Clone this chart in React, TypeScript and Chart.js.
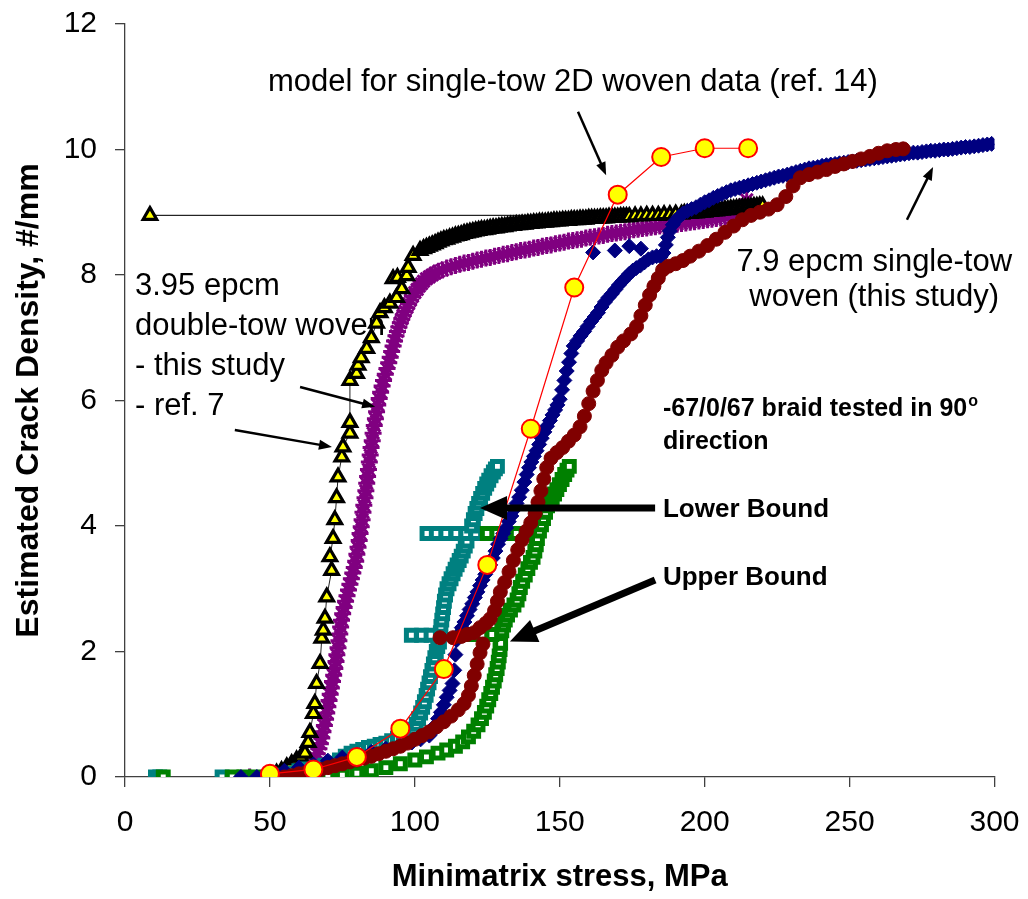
import React, { useEffect, useRef } from 'react';
import { Chart, registerables } from 'chart.js';

Chart.register(...registerables);

const FONT = "'Liberation Sans', Arial, sans-serif";

const xTickValues = [0, 50, 100, 150, 200, 250, 300];
const yTickValues = [0, 2, 4, 6, 8, 10, 12];

// model for single-tow 2D woven data (ref. 14)
const modelX = [50, 65, 80, 95, 110, 125, 140, 155, 170, 185, 200, 215];
const modelY = [0.05, 0.12, 0.32, 0.77, 1.72, 3.38, 5.55, 7.8, 9.28, 9.88, 10.02, 10.02];

// 3.95 epcm double-tow woven - ref. 7 (triangles, thin line), ordered by crack density
const refSevenRiseX = [48, 50, 52.3, 54, 55.8, 57.5, 59.2, 60.7, 62.1, 63.2, 63.8, 65, 65.5, 66.1, 67.3, 67.9, 68.4, 69, 69.6, 71.3, 70.7, 71.8, 72.4, 73, 73.5, 74.8, 75.2, 77.6, 77.6, 77.6, 79.9, 80.4, 81.5, 83.4, 85, 86.8, 88, 89.5, 91.4, 93.7, 95.5, 92.5, 94, 97.2, 97.7, 99.4, 101.8];
const refSevenRiseY = [0, 0.02, 0.06, 0.1, 0.16, 0.21, 0.27, 0.32, 0.38, 0.55, 0.71, 1.01, 1.17, 1.49, 1.81, 2.21, 2.34, 2.53, 2.87, 3.29, 3.51, 3.8, 4.1, 4.45, 4.78, 5.1, 5.26, 5.48, 5.65, 6.32, 6.43, 6.56, 6.68, 6.83, 7.0, 7.23, 7.4, 7.48, 7.55, 7.64, 7.78, 7.94, 7.96, 7.99, 8.12, 8.31, 8.39];
// ref. 7: dense plateau band (the lone early point at 8.6 MPa sits in its crack-density order)
const refSevenBandX = [103, 104, 105, 106, 107, 108, 109, 110, 111, 112, 113, 114, 115, 116, 117, 118, 119, 120, 121, 122, 123, 124, 125, 126, 127, 128, 129, 130, 131, 132, 133, 134, 135, 136, 137, 138, 139, 140, 141, 142, 143, 144, 145, 146, 147, 148, 149, 150, 151, 152, 153, 154, 155, 156, 157, 158, 159, 160, 161, 162, 163, 164, 165, 166, 167, 168, 169, 170, 171, 172, 173, 174, 176, 178, 180, 8.6, 182, 184, 186, 188, 190, 192, 193, 194, 195, 196, 197, 198, 199, 200, 201, 202, 203, 204, 205, 206, 207, 208, 209, 210, 211, 212, 213, 214, 215, 216, 217, 218, 219, 220];
const refSevenBandY = [8.42, 8.44, 8.46, 8.48, 8.5, 8.52, 8.54, 8.56, 8.57, 8.59, 8.6, 8.62, 8.63, 8.64, 8.66, 8.67, 8.68, 8.69, 8.7, 8.71, 8.72, 8.72, 8.73, 8.74, 8.75, 8.75, 8.76, 8.77, 8.77, 8.78, 8.79, 8.79, 8.8, 8.8, 8.81, 8.81, 8.82, 8.82, 8.83, 8.83, 8.84, 8.84, 8.84, 8.85, 8.85, 8.86, 8.86, 8.86, 8.87, 8.87, 8.87, 8.88, 8.88, 8.88, 8.89, 8.89, 8.89, 8.9, 8.9, 8.9, 8.9, 8.91, 8.91, 8.91, 8.92, 8.92, 8.92, 8.92, 8.93, 8.93, 8.93, 8.93, 8.94, 8.94, 8.95, 8.95, 8.95, 8.95, 8.96, 8.96, 8.97, 8.97, 8.98, 8.98, 8.98, 8.99, 8.99, 9.0, 9.0, 9.0, 9.01, 9.01, 9.02, 9.02, 9.03, 9.03, 9.04, 9.04, 9.05, 9.05, 9.06, 9.06, 9.07, 9.07, 9.08, 9.08, 9.09, 9.09, 9.1, 9.1];

// 3.95 epcm double-tow woven - this study (purple)
const thisStudyDoubleX = [43, 58, 60, 61.5, 62.5, 63.5, 64.3, 65, 65.7, 66.3, 66.9, 67.4, 67.9, 68.3, 68.8, 69.2, 69.6, 70, 70.4, 70.8, 71.2, 71.6, 72, 72.4, 72.8, 73.1, 73.5, 73.8, 74.1, 74.4, 74.7, 75.1, 75.6, 76.1, 76.6, 77.1, 77.6, 78.1, 78.6, 79.1, 79.6, 80, 80.4, 80.8, 81.1, 81.5, 81.8, 82.1, 82.4, 82.8, 83.1, 83.4, 83.7, 84, 84.3, 84.6, 84.9, 85.3, 85.6, 86, 86.4, 86.8, 87.2, 87.7, 88.2, 88.7, 89.2, 89.8, 90.4, 91, 91.5, 92, 92.5, 93, 93.5, 94, 94.5, 95, 95.5, 96, 96.6, 97.2, 97.8, 98.5, 99.2, 100, 100.8, 101.5, 102.3, 103, 104, 105, 106, 107, 108.2, 109.5, 111, 112.5, 114, 115.5, 117, 118.5, 120, 121.5, 123, 124.5, 126, 127.5, 129, 130.5, 132, 133.5, 135, 136.5, 138, 139.5, 141, 142.5, 144, 145.5, 147, 148.5, 150, 151.5, 153, 154.5, 156, 157.5, 159, 160.5, 162, 163.5, 165, 166.5, 168, 169.5, 171, 172.5, 174, 175.5, 177, 178.5, 180, 181.5, 183, 184.5, 186, 187.5, 189, 190.5, 192, 193.5, 195, 196.5, 198, 199.5, 201, 202.5, 204, 205.5, 207, 208.5, 210, 211.5, 212.5, 213.5, 214.5];
const thisStudyDoubleY = [0, 0.02, 0.04, 0.06, 0.09, 0.13, 0.17, 0.23, 0.3, 0.37, 0.45, 0.53, 0.62, 0.72, 0.82, 0.92, 1.02, 1.12, 1.22, 1.32, 1.42, 1.52, 1.62, 1.73, 1.84, 1.95, 2.06, 2.17, 2.28, 2.39, 2.5, 2.6, 2.7, 2.8, 2.89, 2.98, 3.07, 3.16, 3.25, 3.34, 3.44, 3.55, 3.66, 3.77, 3.88, 3.99, 4.1, 4.22, 4.33, 4.45, 4.56, 4.68, 4.79, 4.9, 5.02, 5.13, 5.25, 5.36, 5.48, 5.6, 5.71, 5.82, 5.93, 6.03, 6.13, 6.23, 6.32, 6.42, 6.51, 6.6, 6.69, 6.78, 6.87, 6.95, 7.03, 7.1, 7.17, 7.24, 7.3, 7.36, 7.42, 7.48, 7.54, 7.6, 7.66, 7.72, 7.77, 7.82, 7.86, 7.9, 7.94, 7.97, 8.0, 8.03, 8.06, 8.08, 8.11, 8.13, 8.15, 8.17, 8.19, 8.2, 8.22, 8.24, 8.25, 8.27, 8.28, 8.3, 8.31, 8.33, 8.34, 8.36, 8.37, 8.39, 8.4, 8.41, 8.43, 8.44, 8.46, 8.47, 8.48, 8.5, 8.51, 8.52, 8.54, 8.55, 8.56, 8.57, 8.59, 8.6, 8.61, 8.62, 8.63, 8.65, 8.66, 8.67, 8.68, 8.69, 8.71, 8.72, 8.73, 8.74, 8.75, 8.76, 8.77, 8.78, 8.79, 8.8, 8.8, 8.81, 8.82, 8.83, 8.84, 8.85, 8.86, 8.87, 8.88, 8.89, 8.9, 8.91, 8.92, 8.94, 8.96, 8.99, 9.04, 9.1, 9.2];

// 7.9 epcm single-tow woven (this study) - navy diamonds
const singleTowX = [40, 45.5, 50, 55, 60, 65, 70, 75, 80, 85, 90, 95, 99, 102, 105, 106, 107, 108, 109, 110, 111, 112, 113, 113.6, 114, 114.4, 115.3, 116.2, 117.1, 118, 118.9, 119.8, 120.7, 121.6, 122.5, 123.4, 124.3, 125.2, 126, 126.9, 127.8, 128.7, 129.6, 130.5, 131.5, 132.4, 133.3, 134.2, 135.1, 136, 136.9, 137.8, 138.6, 139.4, 140.2, 141.1, 142, 142.9, 143.8, 144.7, 145.6, 146.6, 147.5, 148.4, 149.2, 150, 150.8, 151.6, 152.4, 153.2, 154, 154.8, 156, 157.2, 158.4, 159.6, 160.8, 162, 163.2, 164.4, 165.6, 166.8, 168, 169.2, 170.4, 171.6, 172.8, 174, 175.2, 176.4, 177.8, 179.2, 180.6, 182, 183.4, 184.8, 185.8, 186.6, 187.3, 161.5, 169, 174, 178, 188, 189, 190, 191.2, 192.5, 194, 195.5, 197, 198.5, 200, 201.5, 203, 204.5, 206, 207.5, 209, 210.5, 212, 213.5, 215, 216.5, 218, 219.5, 221, 222.5, 224, 225.5, 227, 228.5, 230, 231.5, 233, 234.5, 236, 237.5, 239, 240.5, 242, 243.5, 245, 246.5, 248, 249.5, 251, 252.5, 254, 255.5, 257, 258.5, 260, 261.5, 263, 264.5, 266, 267.5, 269, 270.5, 272, 273.5, 275, 276.5, 278, 279.5, 281, 282.5, 284, 285.5, 287, 288.5, 290, 291.5, 293, 294.5, 296, 297.5, 299];
const singleTowY = [0, 0, 0.05, 0.1, 0.15, 0.2, 0.26, 0.31, 0.36, 0.4, 0.45, 0.5, 0.55, 0.6, 0.66, 0.72, 0.82, 0.93, 1.03, 1.15, 1.27, 1.38, 1.49, 1.7, 1.95, 2.18, 2.28, 2.38, 2.47, 2.57, 2.67, 2.76, 2.86, 2.95, 3.05, 3.14, 3.23, 3.3, 3.38, 3.49, 3.6, 3.71, 3.8, 3.88, 3.97, 4.07, 4.16, 4.26, 4.36, 4.46, 4.57, 4.7, 4.82, 4.93, 5.02, 5.11, 5.2, 5.3, 5.4, 5.5, 5.59, 5.68, 5.77, 5.85, 5.93, 6.02, 6.17, 6.32, 6.47, 6.61, 6.75, 6.87, 6.95, 7.03, 7.1, 7.18, 7.26, 7.33, 7.4, 7.49, 7.57, 7.64, 7.7, 7.77, 7.84, 7.9, 7.96, 8.02, 8.07, 8.11, 8.15, 8.2, 8.25, 8.28, 8.3, 8.29, 8.35, 8.48, 8.6, 8.36, 8.39, 8.46, 8.42, 8.7, 8.8, 8.87, 8.93, 8.98, 9.02, 9.05, 9.08, 9.12, 9.16, 9.19, 9.23, 9.26, 9.29, 9.32, 9.35, 9.37, 9.39, 9.41, 9.43, 9.45, 9.47, 9.49, 9.51, 9.53, 9.55, 9.57, 9.58, 9.6, 9.62, 9.64, 9.66, 9.68, 9.7, 9.71, 9.72, 9.74, 9.75, 9.76, 9.77, 9.78, 9.79, 9.8, 9.81, 9.82, 9.83, 9.84, 9.85, 9.86, 9.87, 9.88, 9.89, 9.9, 9.91, 9.92, 9.93, 9.94, 9.95, 9.95, 9.96, 9.97, 9.98, 9.98, 9.99, 10.0, 10.0, 10.01, 10.02, 10.03, 10.04, 10.04, 10.05, 10.06, 10.07, 10.08, 10.09];

// maroon circles
const maroonX = [55, 57.5, 60, 62.5, 65, 67.5, 70, 72.5, 75, 77.5, 80, 82.5, 85, 87.5, 90, 92.5, 95, 97.5, 100, 102.5, 105, 107.5, 110, 112.5, 115, 117, 118.5, 119.5, 120.5, 121.5, 122.5, 123.5, 108.7, 113.2, 116, 118, 120.5, 122.5, 124.5, 126, 127.5, 128.5, 129.5, 131, 132.5, 134, 135.5, 137, 138.5, 140, 141.5, 142.5, 143.5, 144.5, 145.5, 147, 149, 151, 153, 155, 157, 158.5, 160, 161.5, 163, 164.5, 166, 168, 170, 172, 174.5, 176.5, 178, 179.5, 181, 182.5, 184, 185.5, 187.5, 190, 192.5, 195, 198, 201, 204, 207, 210, 213, 216, 219, 222, 225, 228, 230.5, 233, 236, 239, 242, 245, 248, 251, 254, 257, 260, 263, 266, 268.5];
const maroonY = [0, 0.02, 0.05, 0.07, 0.1, 0.12, 0.15, 0.18, 0.21, 0.24, 0.27, 0.3, 0.33, 0.37, 0.41, 0.45, 0.49, 0.54, 0.6, 0.66, 0.72, 0.8, 0.88, 0.97, 1.07, 1.17, 1.3, 1.45, 1.62, 1.8, 1.98, 2.12, 2.22, 2.22, 2.24, 2.27, 2.3, 2.38, 2.45, 2.52, 2.65, 2.8, 2.95, 3.1, 3.27, 3.45, 3.62, 3.78, 3.92, 4.05, 4.2, 4.38, 4.56, 4.75, 4.93, 5.08, 5.17, 5.25, 5.35, 5.45, 5.58, 5.75, 5.95, 6.15, 6.32, 6.48, 6.6, 6.72, 6.85, 6.95, 7.06, 7.18, 7.35, 7.52, 7.68, 7.82, 7.95, 8.08, 8.14, 8.18, 8.23, 8.3, 8.38, 8.47, 8.57, 8.68, 8.78, 8.88, 8.95, 9.0, 9.05, 9.12, 9.25, 9.42, 9.55, 9.6, 9.64, 9.68, 9.73, 9.77, 9.81, 9.85, 9.89, 9.94, 9.98, 10.0, 10.01];

// Lower Bound (teal squares)
const lowerBoundX = [10.5, 12, 33.5, 51, 54, 57, 60, 63, 66, 69, 72, 74, 76, 78, 80, 82, 84, 86, 88, 90, 92, 94, 96, 98, 99.5, 100.5, 101.3, 102, 102.7, 103.3, 103.9, 104.4, 104.9, 105.4, 105.9, 106.4, 106.9, 107.4, 107.9, 108.5, 98.8, 102.3, 105.6, 108.8, 109, 109.3, 109.6, 109.9, 110.2, 110.6, 111.1, 111.8, 112.5, 113.2, 113.9, 114.6, 115.3, 116, 116.7, 117.4, 118, 104.2, 107.4, 110.7, 114.2, 117.6, 121, 119.6, 120.2, 120.8, 121.4, 122, 122.7, 123.4, 124.1, 124.8, 125.5, 126.3, 127.1, 127.8, 128.5];
const lowerBoundY = [0, 0, 0, 0, 0.03, 0.06, 0.1, 0.13, 0.16, 0.19, 0.22, 0.27, 0.33, 0.38, 0.41, 0.44, 0.47, 0.49, 0.52, 0.54, 0.58, 0.62, 0.66, 0.71, 0.76, 0.84, 0.93, 1.02, 1.11, 1.2, 1.3, 1.4, 1.5, 1.6, 1.7, 1.8, 1.9, 2.0, 2.08, 2.15, 2.26, 2.26, 2.26, 2.3, 2.4, 2.5, 2.6, 2.7, 2.8, 2.9, 3.0, 3.08, 3.16, 3.24, 3.31, 3.38, 3.45, 3.52, 3.6, 3.68, 3.76, 3.88, 3.88, 3.88, 3.88, 3.88, 3.88, 4.0, 4.1, 4.2, 4.28, 4.36, 4.44, 4.52, 4.6, 4.67, 4.73, 4.8, 4.86, 4.91, 4.95];

// Upper Bound (green squares)
const upperBoundX = [13.2, 37, 41, 45, 50, 55, 60, 65, 70, 75, 80, 85, 90, 95, 100, 104, 108, 111, 114, 116.5, 118.5, 120.3, 121.8, 123, 124, 124.8, 125.5, 126.2, 126.8, 127.4, 127.9, 128.4, 128.8, 129.1, 129.4, 129.6, 116.5, 119.8, 123.2, 126.6, 130, 130.6, 131.2, 132, 133, 134.2, 135.3, 135.9, 136.4, 137.2, 138.1, 139, 139.9, 140.8, 141.4, 141.9, 142.3, 125, 128.3, 131.6, 135, 138.4, 143, 143.7, 144.4, 145.1, 145.8, 146.6, 147.4, 148.2, 149, 149.9, 150.8, 151.7, 152.5, 153.3];
const upperBoundY = [0, 0, 0, 0, 0, 0, 0, 0, 0, 0.03, 0.06, 0.1, 0.15, 0.21, 0.27, 0.32, 0.38, 0.43, 0.49, 0.56, 0.64, 0.73, 0.83, 0.93, 1.03, 1.13, 1.23, 1.33, 1.43, 1.53, 1.63, 1.73, 1.83, 1.93, 2.03, 2.13, 2.27, 2.27, 2.27, 2.27, 2.33, 2.42, 2.5, 2.58, 2.66, 2.74, 2.82, 2.92, 3.02, 3.12, 3.22, 3.32, 3.42, 3.5, 3.6, 3.7, 3.8, 3.88, 3.88, 3.88, 3.88, 3.88, 3.92, 4.02, 4.12, 4.22, 4.32, 4.37, 4.44, 4.51, 4.58, 4.66, 4.74, 4.82, 4.89, 4.95];

const pts = (xs: number[], ys: number[]) => xs.map((x, i) => ({ x, y: ys[i] }));

type Note = { lines: string[]; x: number; y: number; lineGap: number; align: CanvasTextAlign; bold: boolean; size: number };
const notes: Note[] = [
  { lines: ['model for single-tow 2D woven data (ref. 14)'], x: 49.3, y: 10.93, lineGap: 0, align: 'left', bold: false, size: 31 },
  { lines: ['3.95 epcm', 'double-tow woven', '- this study', '- ref. 7'], x: 3.45, y: 7.68, lineGap: 0.637, align: 'left', bold: false, size: 31 },
  { lines: ['7.9 epcm single-tow', 'woven (this study)'], x: 258.5, y: 8.06, lineGap: 0.56, align: 'center', bold: false, size: 31 },
  { lines: ['-67/0/67 braid tested in 90', 'direction'], x: 185.6, y: 5.75, lineGap: 0.526, align: 'left', bold: true, size: 25 },
  { lines: ['Lower Bound'], x: 185.6, y: 4.14, lineGap: 0, align: 'left', bold: true, size: 26 },
  { lines: ['Upper Bound'], x: 185.6, y: 3.06, lineGap: 0, align: 'left', bold: true, size: 26 },
];

type Arrow = { x1: number; y1: number; x2: number; y2: number; lw: number; head: number; headW: number };
const arrows: Arrow[] = [
  { x1: 156.3, y1: 10.6, x2: 166, y2: 9.59, lw: 2.5, head: 13, headW: 10 },
  { x1: 60.4, y1: 6.215, x2: 86.3, y2: 5.9, lw: 2.5, head: 13, headW: 10 },
  { x1: 37.9, y1: 5.53, x2: 71.4, y2: 5.26, lw: 2.5, head: 13, headW: 10 },
  { x1: 269.8, y1: 8.88, x2: 278.8, y2: 9.72, lw: 2.5, head: 13, headW: 10 },
  { x1: 182.9, y1: 4.287, x2: 122.5, y2: 4.287, lw: 7, head: 27, headW: 24 },
  { x1: 182.9, y1: 3.139, x2: 132.8, y2: 2.16, lw: 7, head: 27, headW: 24 },
];

const annotationPlugin = {
  id: 'annotations',
  beforeDatasetsDraw(chart: any) {
    const { ctx, scales } = chart;
    ctx.save();
    ctx.fillStyle = '#000';
    ctx.textBaseline = 'alphabetic';
    notes.forEach((n) => {
      const font = `${n.bold ? 'bold ' : ''}${n.size}px ${FONT}`;
      n.lines.forEach((line, i) => {
        ctx.font = font;
        ctx.textAlign = n.align;
        const px = scales.x.getPixelForValue(n.x);
        const py = scales.y.getPixelForValue(n.y - i * n.lineGap);
        ctx.fillText(line, px, py);
        if (line.endsWith('in 90')) {
          const w = ctx.measureText(line).width;
          ctx.font = `bold ${Math.round(n.size * 0.62)}px ${FONT}`;
          ctx.textAlign = 'left';
          ctx.fillText('o', px + w + 1, py - n.size * 0.42);
        }
      });
    });
    ctx.restore();
  },
  afterDatasetsDraw(chart: any) {
    const { ctx, scales } = chart;
    ctx.save();
    ctx.strokeStyle = '#000';
    ctx.fillStyle = '#000';
    arrows.forEach((a) => {
      const x1 = scales.x.getPixelForValue(a.x1);
      const y1 = scales.y.getPixelForValue(a.y1);
      const x2 = scales.x.getPixelForValue(a.x2);
      const y2 = scales.y.getPixelForValue(a.y2);
      const ang = Math.atan2(y2 - y1, x2 - x1);
      const bx = x2 - a.head * Math.cos(ang);
      const by = y2 - a.head * Math.sin(ang);
      ctx.lineWidth = a.lw;
      ctx.beginPath();
      ctx.moveTo(x1, y1);
      ctx.lineTo(bx + Math.cos(ang), by + Math.sin(ang));
      ctx.stroke();
      ctx.beginPath();
      ctx.moveTo(x2, y2);
      ctx.lineTo(bx + (a.headW / 2) * Math.sin(ang), by - (a.headW / 2) * Math.cos(ang));
      ctx.lineTo(bx - (a.headW / 2) * Math.sin(ang), by + (a.headW / 2) * Math.cos(ang));
      ctx.closePath();
      ctx.fill();
    });
    ctx.restore();
  },
};

const zeroPadding = (s: any) => {
  s.paddingLeft = 0;
  s.paddingRight = 0;
  s.paddingTop = 0;
  s.paddingBottom = 0;
};

export default function App() {
  const canvasRef = useRef<HTMLCanvasElement | null>(null);

  useEffect(() => {
    document.body.style.margin = '0';
    const canvas = canvasRef.current;
    if (!canvas) return;
    const chart = new Chart(canvas, {
      type: 'scatter',
      data: {
        datasets: [
          {
            label: 'model (ref. 14)',
            data: pts(modelX, modelY),
            showLine: true,
            borderColor: '#FF0000',
            borderWidth: 1.2,
            pointStyle: 'circle',
            pointRadius: 9,
            pointBorderWidth: 2,
            pointBackgroundColor: '#FFFF00',
            pointBorderColor: '#FF0000',
          },
          {
            label: 'maroon',
            data: pts(maroonX, maroonY),
            showLine: false,
            pointStyle: 'circle',
            pointRadius: 7,
            pointBorderWidth: 1,
            pointBackgroundColor: '#800000',
            pointBorderColor: '#800000',
          },
          {
            label: '7.9 epcm single-tow woven',
            data: pts(singleTowX, singleTowY),
            showLine: false,
            pointStyle: 'rectRot',
            pointRadius: 7.5,
            pointBorderWidth: 1,
            pointBackgroundColor: '#000080',
            pointBorderColor: '#000080',
          },
          {
            label: 'Upper Bound',
            data: pts(upperBoundX, upperBoundY),
            showLine: false,
            pointStyle: 'rect',
            pointRadius: 7,
            pointBorderWidth: 5,
            pointBackgroundColor: '#FFFFFF',
            pointBorderColor: '#008000',
          },
          {
            label: 'Lower Bound',
            data: pts(lowerBoundX, lowerBoundY),
            showLine: false,
            pointStyle: 'rect',
            pointRadius: 7,
            pointBorderWidth: 5,
            pointBackgroundColor: '#FFFFFF',
            pointBorderColor: '#008080',
          },
          {
            label: 'ref. 7',
            data: [...pts(refSevenRiseX, refSevenRiseY), ...pts(refSevenBandX, refSevenBandY)],
            showLine: true,
            borderColor: '#222222',
            borderWidth: 1,
            pointStyle: 'triangle',
            pointRadius: 7.8,
            pointBorderWidth: 3.2,
            pointBackgroundColor: '#FFFF00',
            pointBorderColor: '#000000',
          },
          {
            label: 'this study (double-tow)',
            data: pts(thisStudyDoubleX, thisStudyDoubleY),
            showLine: false,
            pointStyle: 'star',
            pointRadius: 8.5,
            pointBorderWidth: 3,
            pointBackgroundColor: '#800080',
            pointBorderColor: '#800080',
          },
        ],
      },
      options: {
        responsive: false,
        animation: false,
        layout: { padding: { left: 0, right: 33.5, top: 24, bottom: 0 } },
        plugins: { legend: { display: false }, tooltip: { enabled: false } },
        scales: {
          x: {
            type: 'linear',
            min: 0,
            max: 300,
            afterBuildTicks: (s: any) => {
              s.ticks = xTickValues.map((v) => ({ value: v }));
            },
            afterFit: (s: any) => {
              s.height = 122;
              zeroPadding(s);
            },
            grid: { display: true, drawOnChartArea: false, drawTicks: true, tickLength: 10, color: '#404040', lineWidth: 1.3 },
            border: { display: true, color: '#404040', width: 1.3 },
            ticks: { font: { family: FONT, size: 30 }, color: '#000', padding: 18, maxRotation: 0 },
            title: {
              display: true,
              text: 'Minimatrix stress, MPa',
              font: { family: FONT, size: 31, weight: 'bold' },
              color: '#000',
              padding: { top: 3, bottom: 3 },
            },
          },
          y: {
            type: 'linear',
            min: 0,
            max: 12,
            afterBuildTicks: (s: any) => {
              s.ticks = yTickValues.map((v) => ({ value: v }));
            },
            afterFit: (s: any) => {
              s.width = 125;
              zeroPadding(s);
            },
            grid: { display: true, drawOnChartArea: false, drawTicks: true, tickLength: 10, color: '#404040', lineWidth: 1.3 },
            border: { display: true, color: '#404040', width: 1.3 },
            ticks: { font: { family: FONT, size: 30 }, color: '#000', padding: 18 },
            title: {
              display: true,
              text: 'Estimated Crack Density, #/mm',
              font: { family: FONT, size: 32, weight: 'bold' },
              color: '#000',
              padding: { top: 10, bottom: 10 },
            },
          },
        },
      },
      plugins: [annotationPlugin],
    });
    return () => chart.destroy();
  }, []);

  return (
    <div style={{ width: 1028, height: 899 }}>
      <canvas ref={canvasRef} width={1028} height={899} />
    </div>
  );
}
